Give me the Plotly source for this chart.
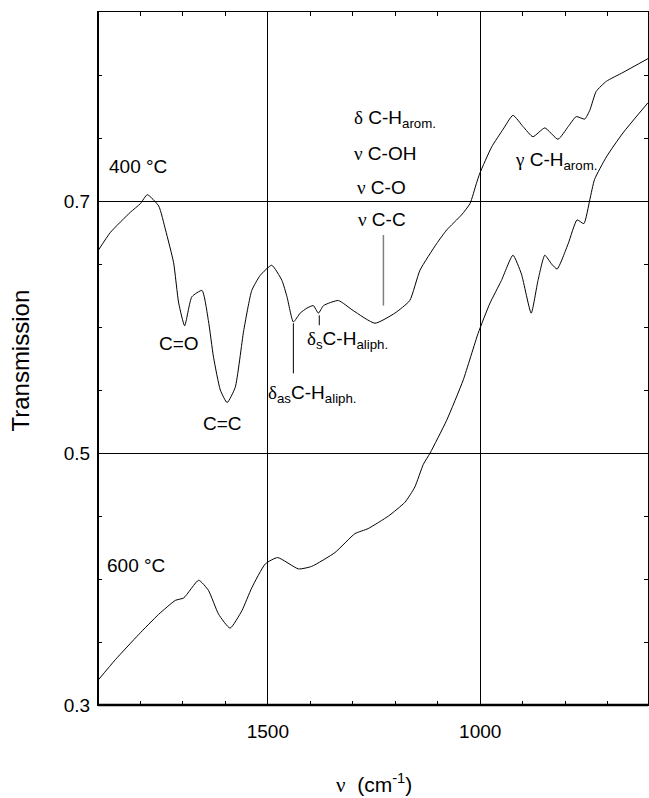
import plotly.graph_objects as go

# ---- data (wavenumber in cm^-1, transmission) ----
wn_400 = [1899, 1871, 1824, 1800, 1784, 1757, 1741, 1722, 1710, 1696, 1679, 1655, 1640, 1628,
          1612, 1596, 1577, 1557, 1538, 1518, 1491, 1467, 1455, 1440, 1424, 1408, 1393, 1381,
          1369, 1334, 1299, 1248, 1201, 1166, 1142, 1103, 1079, 1044, 1024, 1009, 1001, 973,
          946, 923, 899, 876, 848, 817, 793, 774, 754, 742, 727, 703, 664, 605]
t_400 = [0.661, 0.675, 0.691, 0.698, 0.705, 0.696, 0.677, 0.651, 0.619, 0.601, 0.624, 0.629,
         0.605, 0.576, 0.550, 0.540, 0.552, 0.597, 0.629, 0.641, 0.649, 0.637, 0.624, 0.604,
         0.611, 0.615, 0.617, 0.611, 0.617, 0.621, 0.613, 0.603, 0.611, 0.621, 0.645, 0.666,
         0.677, 0.689, 0.698, 0.714, 0.722, 0.743, 0.757, 0.768, 0.759, 0.751, 0.758, 0.749,
         0.759, 0.767, 0.765, 0.772, 0.787, 0.795, 0.802, 0.813]

wn_600 = [1899, 1859, 1804, 1757, 1718, 1698, 1663, 1640, 1616, 1589, 1561, 1538, 1506, 1477,
          1428, 1397, 1342, 1295, 1264, 1216, 1177, 1154, 1134, 1118, 1079, 1040, 1005, 977,
          950, 923, 903, 880, 864, 848, 832, 819, 793, 772, 756, 742, 731, 703, 664, 605]
t_600 = [0.320, 0.336, 0.356, 0.372, 0.383, 0.385, 0.399, 0.391, 0.372, 0.361, 0.375, 0.393,
         0.412, 0.417, 0.408, 0.410, 0.421, 0.436, 0.440, 0.450, 0.461, 0.473, 0.491, 0.500,
         0.526, 0.558, 0.595, 0.619, 0.637, 0.657, 0.642, 0.611, 0.637, 0.657, 0.650, 0.646,
         0.666, 0.685, 0.682, 0.701, 0.717, 0.735, 0.754, 0.778]

x_ticks = [1500, 1000]
x_ticklabels = ["1500", "1000"]
y_ticks = [0.3, 0.5, 0.7]
y_ticklabels = ["0.3", "0.5", "0.7"]

FONT = "Liberation Sans, Arial, sans-serif"
SERIF = "Liberation Serif"
FS = 19


def g(ch):
    return f"<span style='font-family:{SERIF}'>{ch}</span>"


fig = go.Figure()
for xs, ys in [(wn_400, t_400), (wn_600, t_600)]:
    fig.add_trace(go.Scatter(x=xs, y=ys, mode="lines",
                             line=dict(color="black", width=1, shape="spline", smoothing=0.5),
                             showlegend=False, hoverinfo="skip"))

annots = [
    ("400 °C", 1879, 0.727, "left"),
    ("600 °C", 1883, 0.4105, "left"),
    ("C=O", 1710, 0.587, "center"),
    ("C=C", 1607, 0.5235, "center"),
    (g("δ") + "<sub>as</sub>C-H<sub>aliph.</sub>", 1504, 0.547, "left"),
    (g("δ") + "<sub>s</sub>C-H<sub>aliph.</sub>", 1413, 0.590, "left"),
    (g("δ") + " C-H<sub>arom.</sub>", 1303, 0.765, "left"),
    (g("ν") + " C-OH", 1303, 0.738, "left"),
    (g("ν") + " C-O", 1296, 0.711, "left"),
    (g("ν") + " C-C", 1293, 0.685, "left"),
    (g("γ") + " C-H<sub>arom.</sub>", 923, 0.732, "left"),
]
for txt, x, y, anc in annots:
    fig.add_annotation(x=x, y=y, text=txt, showarrow=False, xanchor=anc, yanchor="middle",
                       font=dict(family=FONT, size=FS, color="black"))

# leader lines
fig.add_shape(type="line", x0=1228, x1=1228, y0=0.673, y1=0.617,
              line=dict(color="#808080", width=1.5))
fig.add_shape(type="line", x0=1440, x1=1440, y0=0.603, y1=0.5632,
              line=dict(color="black", width=1))
fig.add_shape(type="line", x0=1379, x1=1379, y0=0.6093, y1=0.6014,
              line=dict(color="black", width=1))

# heavier bottom / left frame lines
fig.add_shape(type="line", xref="paper", yref="paper", x0=0, x1=1, y0=0, y1=0,
              line=dict(color="black", width=2.5))
fig.add_shape(type="line", xref="paper", yref="paper", x0=0, x1=0, y0=0, y1=1,
              line=dict(color="black", width=2))

# axis titles
fig.add_annotation(xref="paper", yref="paper", x=-0.14, y=0.497, text="Transmission",
                   textangle=-90, showarrow=False, xanchor="center", yanchor="middle",
                   font=dict(family=FONT, size=24, color="black"))
fig.add_annotation(xref="paper", yref="paper", x=0.502, y=-0.113,
                   text=g("ν") + "&nbsp; (cm<sup>-1</sup>)", showarrow=False,
                   xanchor="center", yanchor="middle",
                   font=dict(family=FONT, size=21, color="black"))

axis_common = dict(showline=True, linecolor="black", linewidth=1.2, mirror="allticks",
                   ticks="inside", ticklen=4, tickcolor="black", tickwidth=1,
                   showgrid=True, gridcolor="black", gridwidth=1, zeroline=False,
                   tickfont=dict(family=FONT, size=FS, color="black"))

fig.update_xaxes(range=[1900, 605], tickvals=x_ticks, ticktext=x_ticklabels,
                 minor=dict(dtick=100, tick0=0, ticks="inside", ticklen=4,
                            tickcolor="black", showgrid=False),
                 ticklabelstandoff=9, **axis_common)
fig.update_yaxes(range=[0.3, 0.85], tickvals=y_ticks, ticktext=y_ticklabels,
                 minor=dict(dtick=0.05, tick0=0, ticks="inside", ticklen=4,
                            tickcolor="black", showgrid=False),
                 ticklabelstandoff=3, **axis_common)

fig.update_layout(width=649, height=798, margin=dict(l=98, r=1, t=12, b=93),
                  plot_bgcolor="white", paper_bgcolor="white",
                  font=dict(family=FONT, size=FS, color="black"))

fig.write_html("out.html")
